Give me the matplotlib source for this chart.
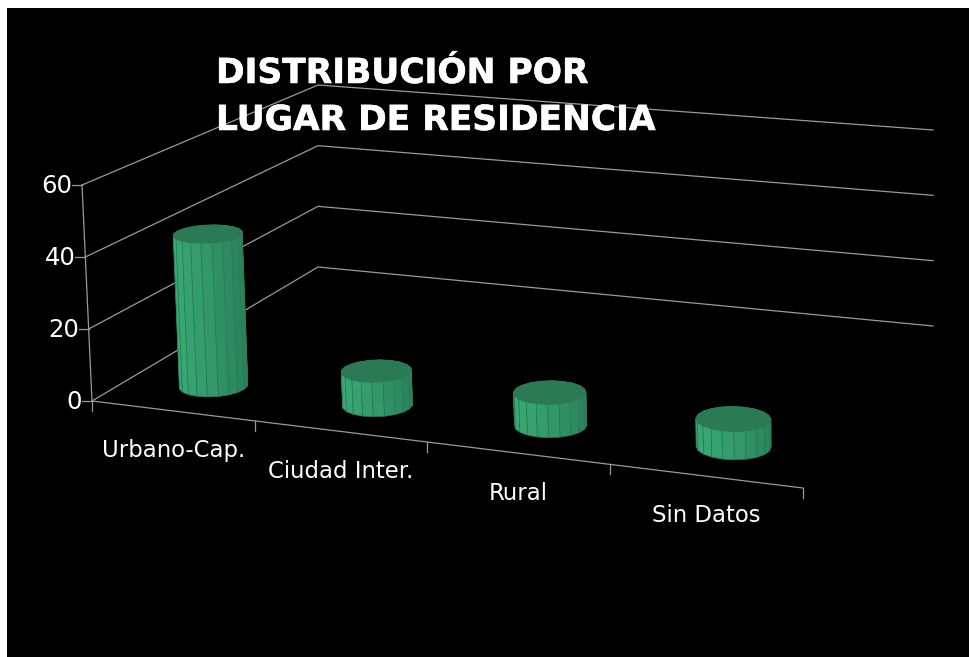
import numpy as np
import matplotlib
matplotlib.use("Agg")
import matplotlib.pyplot as plt
import matplotlib.patheffects as pe
from matplotlib.patches import Polygon

categorias = ["Urbano-Cap.", "Ciudad Inter.", "Rural", "Sin Datos"]
valores = [43, 9.5, 9, 7.5]
ticks_y = [0, 20, 40, 60]
titulo = ["DISTRIBUCIÓN POR", "LUGAR DE RESIDENCIA"]

Y_MAX = 60
W, H = 969, 657

# corners of the 3d box in image pixels: front-left, front-right, back-left, back-right
suelo = [(92, 401), (803, 488), (318, 267), (933, 326)]
techo = [(82, 185), (803, 255), (318, 85), (933, 130)]


def homografia(c):
    # unit square -> quad
    A = []
    b = []
    for (u, d), (x, y) in zip([(0, 0), (1, 0), (0, 1), (1, 1)], c):
        A.append([u, d, 1, 0, 0, 0, -u*x, -d*x])
        A.append([0, 0, 0, u, d, 1, -u*y, -d*y])
        b += [x, y]
    h = np.linalg.solve(np.array(A, float), np.array(b, float))
    return np.append(h, 1).reshape(3, 3)


H_suelo = homografia(suelo)
H_techo = homografia(techo)


def aplicar(M, u, d):
    p = M @ np.array([u, d, 1.0])
    return p[:2] / p[2]


def proy(cat, d, v):
    # cat goes 0..n categories, d goes 0..1 in depth, v in data units
    u = cat / len(categorias)
    a = aplicar(H_suelo, u, d)
    b = aplicar(H_techo, u, d)
    return a + (b - a) * v / Y_MAX


fig = plt.figure(figsize=(W/100, H/100), dpi=100, facecolor="white")
ax = fig.add_axes([7/W, 0, 1 - 7/W, 1 - 8/H], facecolor="black")
ax.set_xlim(7, W)
ax.set_ylim(H, 8)
ax.axis("off")
ax.add_patch(plt.Rectangle((7, 8), W, H, color="black", zorder=0))

gris = "#9a9a9a"
n = len(categorias)

# walls
for t in ticks_y:
    p0 = proy(0, 0, t)
    p1 = proy(0, 1, t)
    p2 = proy(n, 1, t)
    ax.plot([p0[0], p1[0], p2[0]], [p0[1], p1[1], p2[1]], color=gris, lw=0.9, zorder=1)
    ax.plot([p0[0] - 10, p0[0]], [p0[1], p0[1]], color=gris, lw=0.9, zorder=1)
    ax.text(p0[0] - 10, p0[1] + 1, str(t), color="white", fontsize=17.5, ha="right", va="center")

p0 = proy(0, 0, 0)
p1 = proy(0, 0, Y_MAX)
ax.plot([p0[0], p1[0]], [p0[1], p1[1]], color=gris, lw=0.9, zorder=1)

# floor front edge, ticks and labels
p2 = proy(n, 0, 0)
ax.plot([p0[0], p2[0]], [p0[1], p2[1]], color=gris, lw=0.9, zorder=1)
for i in range(n + 1):
    p = proy(i, 0, 0)
    ax.plot([p[0], p[0]], [p[1], p[1] + 10], color=gris, lw=0.9, zorder=1)
for i, c in enumerate(categorias):
    p = proy(i + 0.5, 0, 0)
    ax.text(p[0] + 1, p[1] + 40, c, color="white", fontsize=16.4, ha="center", va="center")

# cylinders
prof = 0.16
r_u = 0.19
r_d = 0.068
caras = 20
claro = np.array([0x38, 0xa8, 0x75]) / 255
oscuro = np.array([0x2a, 0x80, 0x5a]) / 255

for i, val in enumerate(valores):
    ang = np.linspace(0, 2*np.pi, caras + 1)
    base = np.array([proy(i + 0.51 + r_u*np.cos(a), prof + r_d*np.sin(a), 0) for a in ang])
    tapa = np.array([proy(i + 0.51 + r_u*np.cos(a), prof + r_d*np.sin(a), val) for a in ang])
    orden = np.argsort([base[k, 1] + base[k + 1, 1] for k in range(caras)])
    for k in orden:
        # light from the left
        mezcla = np.clip(0.5*(1 + np.cos(0.5*(ang[k] + ang[k + 1]) - 0.6)), 0, 1)
        col = claro*(1 - mezcla) + oscuro*mezcla
        ax.add_patch(Polygon([base[k], base[k + 1], tapa[k + 1], tapa[k]], closed=True,
                             facecolor=col, edgecolor="#2a7a55", lw=0.45, zorder=3))
    ax.add_patch(Polygon(tapa, closed=True, facecolor="#2a7a55", edgecolor="#2a7a55", lw=0.5, zorder=4))

for linea, y in zip(titulo, [83, 130]):
    ax.text(216, y, linea, color="white", fontsize=24.8, fontweight="bold", ha="left", va="baseline", zorder=5,
            path_effects=[pe.withStroke(linewidth=0.4, foreground="white")])

fig.savefig("out.png", dpi=100)
